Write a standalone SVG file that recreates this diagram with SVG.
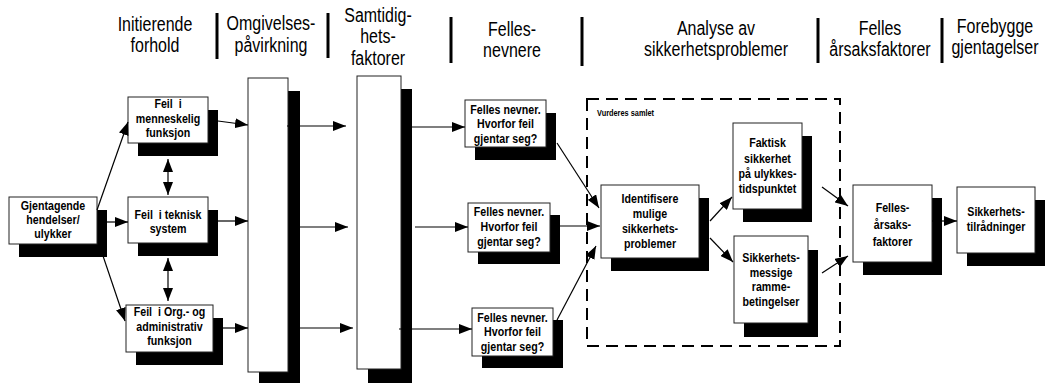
<svg xmlns="http://www.w3.org/2000/svg" width="1045" height="383" viewBox="0 0 1045 383">
  <style>
    /* narrow sans: Liberation Sans squeezed horizontally via scale(0.82,1) on each label */
    .hdr { font-family: "Liberation Sans", Arial, sans-serif; font-size: 19.5px; fill: #000; text-anchor: middle; }
    .sep { stroke: #000; stroke-width: 3; }
    .box { fill: #fff; stroke: #222; stroke-width: 1; }
    .shd { fill: #000; }
    .lbl { font-family: "Liberation Sans", Arial, sans-serif; font-size: 13px; font-weight: bold; fill: #000; text-anchor: middle; }
    .note { font-family: "Liberation Sans", Arial, sans-serif; font-size: 9px; font-weight: bold; fill: #000; }
    .con { stroke: #000; stroke-width: 1.2; fill: none; marker-end: url(#arr); }
    .bi { marker-start: url(#arr); }
    .grp { fill: none; stroke: #000; stroke-width: 2; stroke-dasharray: 12 7; }
  </style>
  <defs>
    <marker id="arr" markerUnits="userSpaceOnUse" markerWidth="13" markerHeight="10" refX="13" refY="5" orient="auto-start-reverse">
      <path d="M0,0 L13,5 L0,10 z" fill="#000"/>
    </marker>
  </defs>

  <!-- column headings -->
  <g id="headings">
    <text class="hdr" transform="translate(155,31) scale(0.82,1)">Initierende</text>
    <text class="hdr" transform="translate(155,52) scale(0.82,1)">forhold</text>
    <text class="hdr" transform="translate(271,30) scale(0.82,1)">Omgivelses-</text>
    <text class="hdr" transform="translate(271,52) scale(0.82,1)">påvirkning</text>
    <text class="hdr" transform="translate(378,22) scale(0.82,1)">Samtidig-</text>
    <text class="hdr" transform="translate(378,43) scale(0.82,1)">hets-</text>
    <text class="hdr" transform="translate(378,65) scale(0.82,1)">faktorer</text>
    <text class="hdr" transform="translate(512,36) scale(0.82,1)">Felles-</text>
    <text class="hdr" transform="translate(512,57) scale(0.82,1)">nevnere</text>
    <text class="hdr" transform="translate(716,35) scale(0.82,1)">Analyse av</text>
    <text class="hdr" transform="translate(716,56) scale(0.82,1)">sikkerhetsproblemer</text>
    <text class="hdr" transform="translate(880,35) scale(0.82,1)">Felles</text>
    <text class="hdr" transform="translate(880,56) scale(0.82,1)">årsaksfaktorer</text>
    <text class="hdr" transform="translate(995,33) scale(0.82,1)">Forebygge</text>
    <text class="hdr" transform="translate(995,54) scale(0.82,1)">gjentagelser</text>
    <line class="sep" x1="217" y1="13" x2="217" y2="59"/>
    <line class="sep" x1="328" y1="13" x2="328" y2="58"/>
    <line class="sep" x1="451" y1="17" x2="451" y2="63"/>
    <line class="sep" x1="582" y1="17" x2="582" y2="66"/>
    <line class="sep" x1="818" y1="18" x2="818" y2="63"/>
    <line class="sep" x1="942" y1="18" x2="942" y2="63"/>
  </g>

  <!-- grouping frame -->
  <g id="vurderes-samlet">
    <rect class="grp" x="587" y="99" width="253" height="247"/>
    <text class="note" transform="translate(597,116) scale(0.82,1)">Vurderes samlet</text>
  </g>

  <g id="gjentagende">
    <rect class="shd" x="19" y="210" width="88" height="47"/>
    <rect class="box" x="9" y="197" width="88" height="47"/>
    <text class="lbl" transform="translate(53,210) scale(0.82,1)">Gjentagende</text>
    <text class="lbl" transform="translate(53,224) scale(0.82,1)">hendelser/</text>
    <text class="lbl" transform="translate(53,238) scale(0.82,1)">ulykker</text>
  </g>

  <g id="feil-menneskelig">
    <rect class="shd" x="138" y="110" width="80" height="46"/>
    <rect class="box" x="128" y="97" width="80" height="46"/>
    <text class="lbl" transform="translate(168,108) scale(0.82,1)">Feil&#160; i</text>
    <text class="lbl" transform="translate(168,123) scale(0.82,1)">menneskelig</text>
    <text class="lbl" transform="translate(168,137) scale(0.82,1)">funksjon</text>
  </g>

  <g id="feil-teknisk">
    <rect class="shd" x="138" y="210" width="80" height="46"/>
    <rect class="box" x="128" y="197" width="80" height="46"/>
    <text class="lbl" transform="translate(168,219) scale(0.82,1)">Feil&#160; i teknisk</text>
    <text class="lbl" transform="translate(168,233) scale(0.82,1)">system</text>
  </g>

  <g id="feil-org">
    <rect class="shd" x="136" y="318" width="87" height="47"/>
    <rect class="box" x="126" y="305" width="87" height="47"/>
    <text class="lbl" transform="translate(169.5,316) scale(0.82,1)">Feil&#160; i Org.- og</text>
    <text class="lbl" transform="translate(169.5,331) scale(0.82,1)">administrativ</text>
    <text class="lbl" transform="translate(169.5,345) scale(0.82,1)">funksjon</text>
  </g>

  <g id="omgivelser">
    <rect class="shd" x="259" y="91" width="41" height="294"/>
    <rect class="box" x="248" y="78" width="40" height="294"/>
  </g>

  <g id="samtidighet">
    <rect class="shd" x="368" y="89" width="44" height="296"/>
    <rect class="box" x="357" y="76" width="44" height="293"/>
  </g>

  <g id="felles-nevner-1">
    <rect class="shd" x="475" y="113" width="81" height="47"/>
    <rect class="box" x="465" y="100" width="81" height="47"/>
    <text class="lbl" transform="translate(505.5,114) scale(0.82,1)">Felles nevner.</text>
    <text class="lbl" transform="translate(505.5,128) scale(0.82,1)">Hvorfor feil</text>
    <text class="lbl" transform="translate(505.5,143) scale(0.82,1)">gjentar seg?</text>
  </g>

  <g id="felles-nevner-2">
    <rect class="shd" x="478" y="215" width="82" height="49"/>
    <rect class="box" x="468" y="203" width="82" height="49"/>
    <text class="lbl" transform="translate(509,216) scale(0.82,1)">Felles nevner.</text>
    <text class="lbl" transform="translate(509,231) scale(0.82,1)">Hvorfor feil</text>
    <text class="lbl" transform="translate(509,246) scale(0.82,1)">gjentar seg?</text>
  </g>

  <g id="felles-nevner-3">
    <rect class="shd" x="482" y="320" width="81" height="48"/>
    <rect class="box" x="472" y="308" width="81" height="48"/>
    <text class="lbl" transform="translate(512.5,322) scale(0.82,1)">Felles nevner.</text>
    <text class="lbl" transform="translate(512.5,336) scale(0.82,1)">Hvorfor feil</text>
    <text class="lbl" transform="translate(512.5,351) scale(0.82,1)">gjentar seg?</text>
  </g>

  <g id="identifisere">
    <rect class="shd" x="611" y="198" width="98" height="73"/>
    <rect class="box" x="601" y="185" width="98" height="73"/>
    <text class="lbl" transform="translate(650,203) scale(0.82,1)">Identifisere</text>
    <text class="lbl" transform="translate(650,218) scale(0.82,1)">mulige</text>
    <text class="lbl" transform="translate(650,233) scale(0.82,1)">sikkerhets-</text>
    <text class="lbl" transform="translate(650,248) scale(0.82,1)">problemer</text>
  </g>

  <g id="faktisk-sikkerhet">
    <rect class="shd" x="743" y="136" width="69" height="86"/>
    <rect class="box" x="733" y="123" width="69" height="86"/>
    <text class="lbl" transform="translate(767.5,147) scale(0.82,1)">Faktisk</text>
    <text class="lbl" transform="translate(767.5,163) scale(0.82,1)">sikkerhet</text>
    <text class="lbl" transform="translate(767.5,178) scale(0.82,1)">på ulykkes-</text>
    <text class="lbl" transform="translate(767.5,193) scale(0.82,1)">tidspunktet</text>
  </g>

  <g id="rammebetingelser">
    <rect class="shd" x="744" y="250" width="74" height="87"/>
    <rect class="box" x="734" y="236" width="74" height="87"/>
    <text class="lbl" transform="translate(771,262) scale(0.82,1)">Sikkerhets-</text>
    <text class="lbl" transform="translate(771,277) scale(0.82,1)">messige</text>
    <text class="lbl" transform="translate(771,291) scale(0.82,1)">ramme-</text>
    <text class="lbl" transform="translate(771,306) scale(0.82,1)">betingelser</text>
  </g>

  <g id="felles-aarsaksfaktorer">
    <rect class="shd" x="863" y="198" width="79" height="77"/>
    <rect class="box" x="853" y="185" width="79" height="77"/>
    <text class="lbl" transform="translate(892.5,212) scale(0.82,1)">Felles-</text>
    <text class="lbl" transform="translate(892.5,229) scale(0.82,1)">årsaks-</text>
    <text class="lbl" transform="translate(892.5,246) scale(0.82,1)">faktorer</text>
  </g>

  <g id="tilraadninger">
    <rect class="shd" x="967" y="200" width="78" height="66"/>
    <rect class="box" x="957" y="187" width="78" height="66"/>
    <text class="lbl" transform="translate(996,216) scale(0.82,1)">Sikkerhets-</text>
    <text class="lbl" transform="translate(996,231) scale(0.82,1)">tilrådninger</text>
  </g>

  <!-- connectors -->
  <g id="connectors">
    <line class="con" x1="97" y1="210" x2="128" y2="122"/>
    <line class="con" x1="107" y1="222" x2="128" y2="222"/>
    <line class="con" x1="101" y1="250" x2="125" y2="321"/>
    <line class="con bi" x1="168" y1="159" x2="168" y2="195"/>
    <line class="con bi" x1="168" y1="258" x2="168" y2="301"/>
    <line class="con" x1="218" y1="121" x2="248" y2="125"/>
    <line class="con" x1="218" y1="221" x2="248" y2="221"/>
    <line class="con" x1="223" y1="328" x2="248" y2="328"/>
    <line class="con" x1="287" y1="126" x2="346" y2="126"/>
    <line class="con" x1="300" y1="227" x2="348" y2="227"/>
    <line class="con" x1="300" y1="328" x2="353" y2="328"/>
    <line class="con" x1="412" y1="127" x2="465" y2="127"/>
    <line class="con" x1="415" y1="227" x2="468" y2="227"/>
    <line class="con" x1="399" y1="329" x2="472" y2="329"/>
    <line class="con" x1="557" y1="143" x2="599" y2="208"/>
    <line class="con" x1="560" y1="226" x2="600" y2="226"/>
    <line class="con" x1="557" y1="320" x2="596" y2="246"/>
    <line class="con" x1="710" y1="221" x2="732" y2="197"/>
    <line class="con" x1="710" y1="238" x2="733" y2="262"/>
    <line class="con" x1="822" y1="187" x2="848" y2="206"/>
    <line class="con" x1="822" y1="273" x2="848" y2="256"/>
    <line class="con" x1="932" y1="221" x2="957" y2="221"/>
  </g>
</svg>
